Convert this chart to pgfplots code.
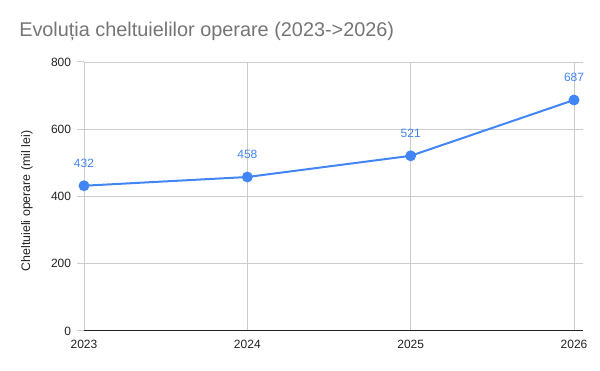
\documentclass[border=0pt]{standalone}
\usepackage{pgfplots}
\pgfplotsset{compat=1.18}
\usepackage{fontspec}
\setmainfont{Liberation Sans}
\definecolor{gblue}{HTML}{4285F4}
\definecolor{ttl}{HTML}{757575}
\definecolor{grd}{HTML}{CCCCCC}
\definecolor{tick}{HTML}{222222}
\begin{document}
\begin{tikzpicture}
\path[use as bounding box] (0pt,0pt) rectangle (450pt,278.25pt);
\node[anchor=base west, font=\fontsize{14.9}{17}\selectfont, text=ttl, inner sep=0] at (14.25pt,250.5pt) {Evoluția cheltuielilor operare (2023->2026)};
\node[rotate=90, font=\fontsize{9.3}{11}\selectfont, text=tick, inner sep=0] at (20.25pt,127.5pt) {Cheltuieli operare (mil lei)};
\foreach \yy in {30,80.4375,130.875,181.3125,231.75} {
  \draw[grd, line width=0.75pt] (57.75pt,\yy pt) -- (63pt,\yy pt);
}
\begin{axis}[
  at={(63pt,30pt)}, anchor=south west,
  scale only axis, width=374.25pt, height=201.75pt,
  xmin=2023, xmax=2026.055, ymin=0, ymax=800,
  xtick={2023,2024,2025,2026}, ytick={0,200,400,600,800},
  xticklabels={2023,2024,2025,2026},
  grid=major, major grid style={grd, line width=0.75pt},
  axis x line*=bottom, axis y line*=left,
  y axis line style={draw=none},
  x axis line style={-, draw=tick, line width=0.75pt},
  major tick length=0pt,
  tick label style={font=\fontsize{9}{11}\selectfont, text=tick},
  /pgf/number format/assume math mode=true,
  /pgf/number format/1000 sep={},
  xticklabel style={anchor=north, yshift=-6.5pt, inner sep=0pt},
  yticklabel style={anchor=east, xshift=-9.5pt, inner sep=0pt},
  clip=false,
  nodes near coords,
  every node near coord/.append style={font=\fontsize{9}{11}\selectfont, text=gblue, anchor=base, yshift=13.5pt, inner sep=0pt},
]
\addplot[gblue, line width=1.5pt, mark=*, mark size=3.3pt, mark options={fill=gblue, draw=gblue}]
  coordinates {(2023,432) (2024,458) (2025,521) (2026,687)};
\end{axis}
\end{tikzpicture}
\end{document}
